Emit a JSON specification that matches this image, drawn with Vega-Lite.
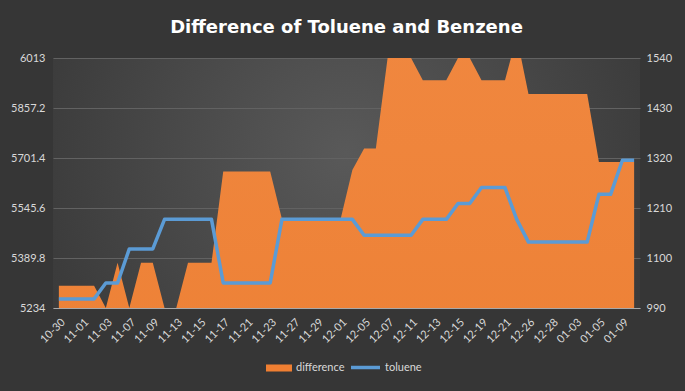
{
  "$schema": "https://vega.github.io/schema/vega-lite/v6.json",
  "width": 587,
  "height": 250,
  "autosize": {"type": "none"},
  "padding": {"left": 53, "top": 58, "right": 45, "bottom": 83},
  "background": "#363636",
  "view": {
    "stroke": null,
    "fill": {
      "gradient": "radial",
      "x1": 0.5, "y1": 0.45, "r1": 0,
      "x2": 0.5, "y2": 0.45, "r2": 0.75,
      "stops": [
        {"offset": 0, "color": "#595959"},
        {"offset": 0.7, "color": "#3c3c3c"},
        {"offset": 1, "color": "#363636"}
      ]
    }
  },
  "title": {
    "text": "Difference of Toluene and Benzene",
    "frame": "group",
    "anchor": "middle",
    "offset": -3,
    "baseline": "bottom",
    "font": "DejaVu Sans",
    "fontSize": 18,
    "fontWeight": "bold",
    "color": "#ffffff"
  },
  "data": {
    "values": [
      {"d": "10-30", "difference": 5303, "toluene": 1010},
      {"d": "10-31", "difference": 5303, "toluene": 1010},
      {"d": "11-01", "difference": 5303, "toluene": 1010},
      {"d": "11-02", "difference": 5303, "toluene": 1010},
      {"d": "11-03", "difference": 5234, "toluene": 1045},
      {"d": "11-06", "difference": 5375, "toluene": 1045},
      {"d": "11-07", "difference": 5234, "toluene": 1120},
      {"d": "11-08", "difference": 5375, "toluene": 1120},
      {"d": "11-09", "difference": 5375, "toluene": 1120},
      {"d": "11-10", "difference": 5234, "toluene": 1185},
      {"d": "11-13", "difference": 5234, "toluene": 1185},
      {"d": "11-14", "difference": 5375, "toluene": 1185},
      {"d": "11-15", "difference": 5375, "toluene": 1185},
      {"d": "11-16", "difference": 5375, "toluene": 1185},
      {"d": "11-17", "difference": 5659, "toluene": 1045},
      {"d": "11-20", "difference": 5659, "toluene": 1045},
      {"d": "11-21", "difference": 5659, "toluene": 1045},
      {"d": "11-22", "difference": 5659, "toluene": 1045},
      {"d": "11-23", "difference": 5659, "toluene": 1045},
      {"d": "11-24", "difference": 5511, "toluene": 1185},
      {"d": "11-27", "difference": 5511, "toluene": 1185},
      {"d": "11-28", "difference": 5511, "toluene": 1185},
      {"d": "11-29", "difference": 5511, "toluene": 1185},
      {"d": "11-30", "difference": 5511, "toluene": 1185},
      {"d": "12-01", "difference": 5511, "toluene": 1185},
      {"d": "12-04", "difference": 5664, "toluene": 1185},
      {"d": "12-05", "difference": 5731, "toluene": 1150},
      {"d": "12-06", "difference": 5731, "toluene": 1150},
      {"d": "12-07", "difference": 6013, "toluene": 1150},
      {"d": "12-08", "difference": 6013, "toluene": 1150},
      {"d": "12-11", "difference": 6013, "toluene": 1150},
      {"d": "12-12", "difference": 5944, "toluene": 1185},
      {"d": "12-13", "difference": 5944, "toluene": 1185},
      {"d": "12-14", "difference": 5944, "toluene": 1185},
      {"d": "12-15", "difference": 6013, "toluene": 1220},
      {"d": "12-18", "difference": 6013, "toluene": 1220},
      {"d": "12-19", "difference": 5944, "toluene": 1255},
      {"d": "12-20", "difference": 5944, "toluene": 1255},
      {"d": "12-21", "difference": 5944, "toluene": 1255},
      {"d": "12-22", "difference": 6080, "toluene": 1185},
      {"d": "12-26", "difference": 5901, "toluene": 1135},
      {"d": "12-27", "difference": 5901, "toluene": 1135},
      {"d": "12-28", "difference": 5901, "toluene": 1135},
      {"d": "12-29", "difference": 5901, "toluene": 1135},
      {"d": "01-03", "difference": 5901, "toluene": 1135},
      {"d": "01-04", "difference": 5901, "toluene": 1135},
      {"d": "01-05", "difference": 5689, "toluene": 1240},
      {"d": "01-08", "difference": 5689, "toluene": 1240},
      {"d": "01-09", "difference": 5689, "toluene": 1315},
      {"d": "01-10", "difference": 5689, "toluene": 1315}
    ]
  },
  "layer": [
    {
      "mark": {
        "type": "area",
        "clip": true,
        "opacity": 1,
        "fillOpacity": 1,
        "fill": {
          "gradient": "linear",
          "x1": 0, "y1": 0, "x2": 0, "y2": 1,
          "stops": [
            {"offset": 0, "color": "#F0873F"},
            {"offset": 1, "color": "#E0640A"}
          ]
        }
      },
      "encoding": {
        "x": {
          "field": "d",
          "type": "ordinal",
          "sort": null,
          "scale": {"type": "point", "padding": 0.5},
          "axis": {
            "domain": true,
            "domainColor": "#a8a8a8",
            "domainWidth": 1,
            "labelAngle": -45,
            "labelPadding": 8,
            "values": ["10-30","11-01","11-03","11-07","11-09","11-13","11-15","11-17","11-21","11-23","11-27","11-29","12-01","12-05","12-07","12-11","12-13","12-15","12-19","12-21","12-26","12-28","01-03","01-05","01-09"]
          }
        },
        "y": {
          "field": "difference",
          "type": "quantitative",
          "scale": {"domain": [5234, 6013], "zero": false, "nice": false},
          "axis": {
            "orient": "left",
            "grid": true,
            "gridColor": "#626262",
            "gridWidth": 1,
            "labelPadding": 8,
            "values": [5234, 5389.8, 5545.6, 5701.4, 5857.2, 6013],
            "format": ".1~f"
          }
        }
      }
    },
    {
      "mark": {
        "type": "line",
        "strokeWidth": 3.5,
        "strokeJoin": "round",
        "strokeCap": "butt",
        "opacity": 1
      },
      "encoding": {
        "x": {
          "field": "d",
          "type": "ordinal",
          "sort": null,
          "scale": {"type": "point", "padding": 0.5}
        },
        "y": {
          "field": "toluene",
          "type": "quantitative",
          "scale": {"domain": [990, 1540], "zero": false, "nice": false},
          "axis": {
            "orient": "right",
            "grid": false,
            "labelPadding": 6,
            "format": "d",
            "values": [990, 1100, 1210, 1320, 1430, 1540]
          }
        },
        "stroke": {
          "datum": "toluene",
          "scale": {"domain": ["toluene"], "range": ["#5B9BD5"]},
          "legend": {
            "orient": "none",
            "legendX": 296,
            "legendY": 293,
            "title": null,
            "symbolType": "stroke",
            "symbolSize": 841,
            "symbolStrokeWidth": 3.5,
            "labelOffset": 3
          }
        }
      }
    },
    {
      "transform": [{"filter": "false"}],
      "mark": {"type": "point", "shape": "square", "filled": true, "opacity": 1},
      "encoding": {
        "fill": {
          "datum": "difference",
          "scale": {"domain": ["difference"], "range": ["#F07F32"]},
          "legend": {
            "orient": "none",
            "legendX": 213,
            "legendY": 297,
            "title": null,
            "symbolType": "M-1,-0.27H1V0.27H-1Z",
            "symbolSize": 676,
            "symbolStrokeWidth": 0,
            "symbolOpacity": 1,
            "labelOffset": 4
          }
        }
      }
    }
  ],
  "resolve": {"scale": {"y": "independent"}},
  "config": {
    "axis": {
      "labelColor": "#d9d9d9",
      "labelFont": "Lato",
      "labelFontSize": 11,
      "ticks": false,
      "domain": false,
      "grid": false,
      "title": null
    },
    "legend": {
      "labelColor": "#d9d9d9",
      "labelFont": "Lato",
      "labelFontSize": 11,
      "padding": 0
    }
  }
}
